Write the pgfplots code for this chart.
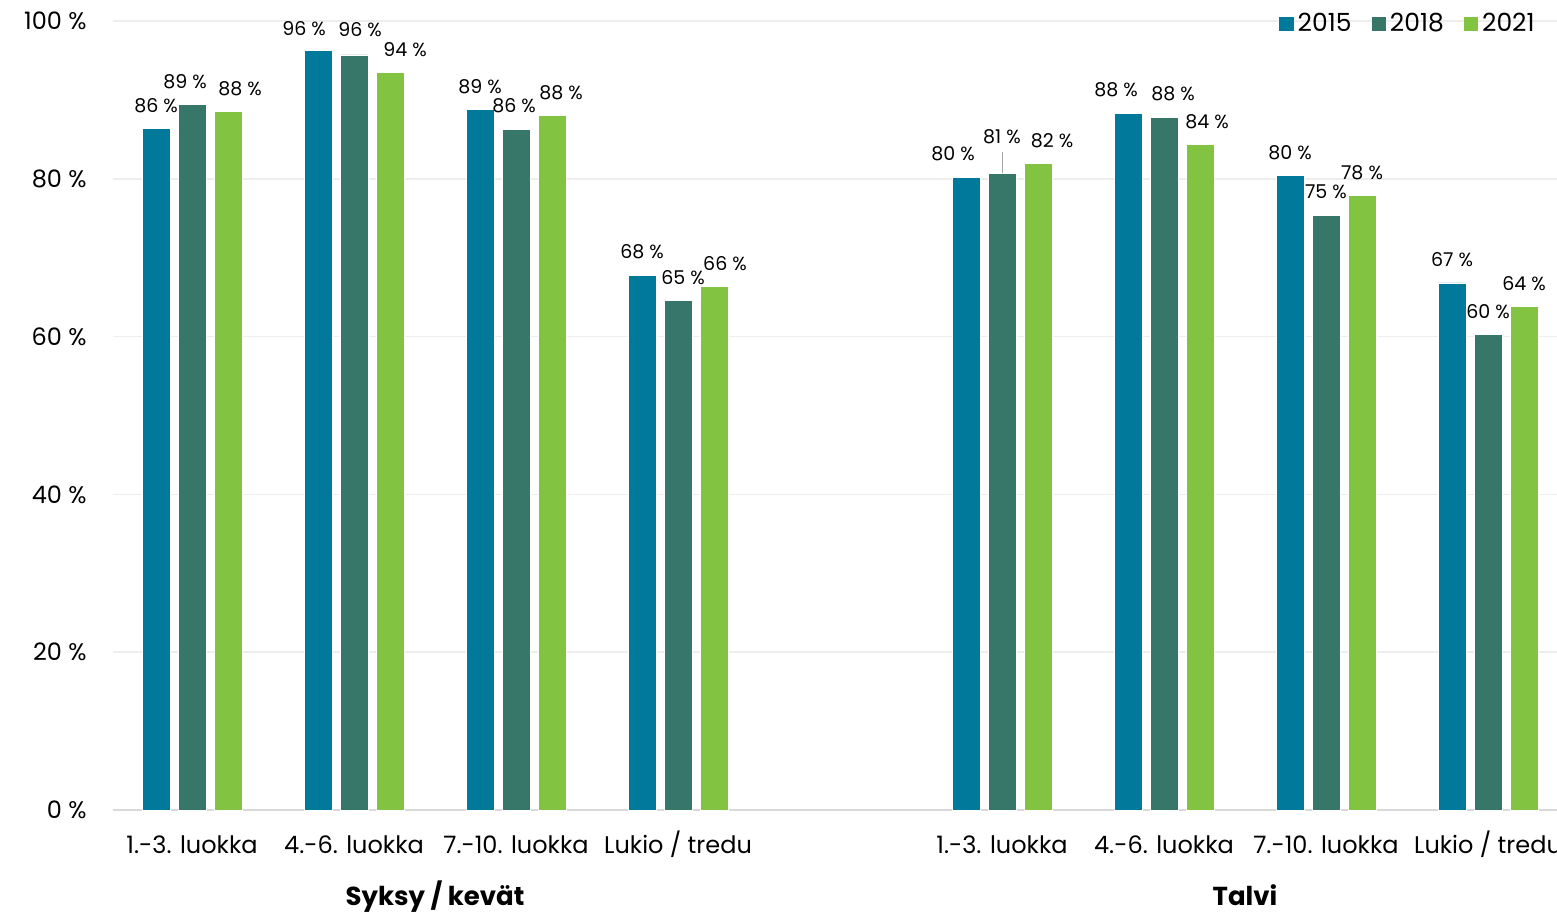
\documentclass[border=0pt]{standalone}
\usepackage{pgfplots}
\pgfplotsset{compat=1.18}
\usepackage{pgfplotstable}
\usepackage{fontspec}
\setmainfont{Poppins}
\definecolor{cA}{HTML}{00799B}
\definecolor{cB}{HTML}{36776A}
\definecolor{cC}{HTML}{82C341}
\definecolor{gridc}{HTML}{EEEEEE}
\definecolor{axc}{HTML}{D9D9D9}

\pgfplotstableread{
x y lab dx dy
0 86.4 86 0 11.5
1 96.3 96 -7 11
2 88.8 89 0 11.5
3 67.8 68 0 11.5
5 80.2 80 -6.5 11.5
6 88.3 88 -6 12
7 80.4 80 0 11.5
8 66.8 67 0 11.5
}\dataA
\pgfplotstableread{
x y lab dx dy
0 89.4 89 -3.5 11.5
1 95.7 96 3 12.5
2 86.3 86 -1 11.5
3 64.6 65 2.5 11.5
5 80.7 81 0 18.5
6 87.8 88 4.5 12
7 75.4 75 0 11.5
8 60.3 60 0 11.5
}\dataB
\pgfplotstableread{
x y lab dx dy
0 88.5 88 6 11.5
1 93.5 94 7.5 11.5
2 88.0 88 4.5 11.5
3 66.3 66 5.5 11.5
5 81.9 82 7 11.5
6 84.3 84 3.5 11.5
7 77.9 78 0 11.5
8 63.8 64 0 11.5
}\dataC

\begin{document}
\begin{tikzpicture}
\begin{axis}[
  scale only axis,
  width=722pt, height=394.5pt,
  ybar=4pt, bar width=14pt,
  xmin=-0.488, xmax=8.426,
  ymin=0, ymax=100,
  clip=false,
  axis x line*=bottom, axis y line*=left,
  x axis line style={draw=axc, line width=1pt, -},
  y axis line style={draw=none},
  major tick length=0pt,
  ytick={0,20,40,60,80,100},
  yticklabels={0 \%,20 \%,40 \%,60 \%,80 \%,100 \%},
  ymajorgrids, grid style={draw=gridc, line width=0.8pt},
  xtick={0,1,2,3,5,6,7,8},
  xticklabels={1.-3. luokka,4.-6. luokka,7.-10. luokka,Lukio / tredu,1.-3. luokka,4.-6. luokka,7.-10. luokka,Lukio / tredu},
  tick label style={font=\fontsize{12}{14}\selectfont, text=black},
  xticklabel style={anchor=base, yshift=-21.5pt},
  yticklabel style={anchor=east, inner sep=0pt, xshift=-13pt},
  every axis plot/.append style={draw=white, line width=0.4pt},
  point meta=explicit symbolic,
  nodes near coords={\pgfplotspointmeta{} \%},
  visualization depends on={\thisrow{dx} \as \dx},
  visualization depends on={\thisrow{dy} \as \dy},
  nodes near coords style={anchor=center, font=\fontsize{9.5}{11}\selectfont, text=black, xshift=\dx pt, yshift=\dy pt},
  legend columns=3,
  legend style={draw=none, fill=none, at={(1,1)}, anchor=east, xshift=-6pt, yshift=-1.5pt,
    font=\fontsize{12.5}{14}\selectfont, /tikz/every even column/.append style={column sep=8pt}},
  legend image code/.code={\fill[#1, draw=none] (-2pt,-3.6pt) rectangle (5.2pt,3.6pt);},
]
\addplot[fill=cA] table[x=x,y=y,meta=lab] {\dataA};
\addplot[fill=cB] table[x=x,y=y,meta=lab] {\dataB};
\addplot[fill=cC] table[x=x,y=y,meta=lab] {\dataC};
\legend{2015,2018,2021}
\draw[gray!70, line width=0.5pt] (axis cs:5,80.7) -- ++(0pt,10.5pt);
\node[font=\bfseries\fontsize{13}{15}\selectfont, anchor=base] at (axis cs:1.5,0) [yshift=-47.5pt] {Syksy / kevät};
\node[font=\bfseries\fontsize{13}{15}\selectfont, anchor=base] at (axis cs:6.5,0) [yshift=-47.5pt] {Talvi};
\end{axis}
\pgfresetboundingbox
\path[use as bounding box] (-56.5pt,-52.5pt) rectangle (722pt,405pt);
\end{tikzpicture}
\end{document}
